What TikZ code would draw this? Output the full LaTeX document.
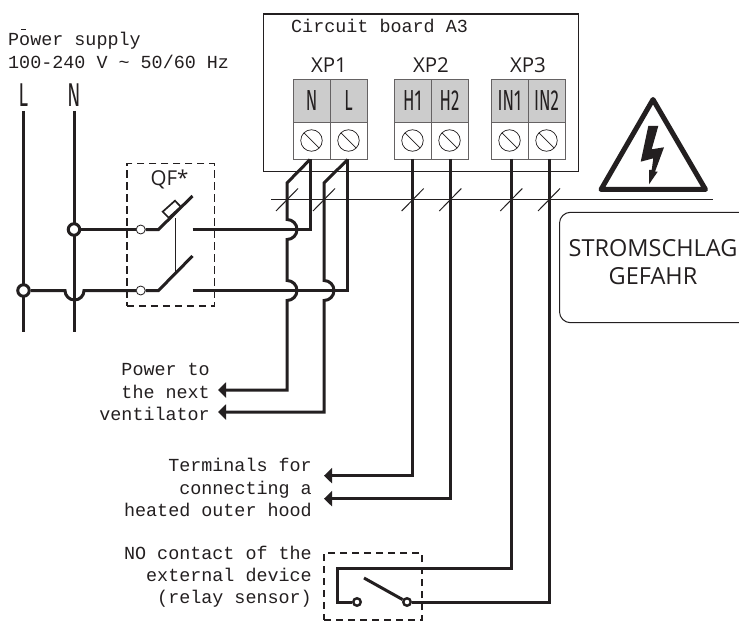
\documentclass[tikz,border=0pt]{standalone}
\usepackage{fontspec}
\setmonofont{Liberation Mono}
\newfontfamily\condfont[FakeStretch=0.58]{Fira Sans}
\newfontfamily\labfont{Open Sans}
\usetikzlibrary{arrows.meta,calc}
\definecolor{ink}{HTML}{231F20}
\definecolor{termgray}{HTML}{CCCCCC}
\tikzset{
  wire/.style={draw=ink,line width=3bp,line join=miter},
  thin wire/.style={draw=ink,line width=1bp},
  dashbox/.style={draw=ink,line width=1.8bp,dash pattern=on 7.5bp off 4.5bp},
  monotxt/.style={font=\fontsize{18.4bp}{22.4bp}\selectfont\ttfamily,text=ink,inner sep=0,align=right,anchor=east},
  condtxt/.style={font=\fontsize{29bp}{30bp}\selectfont\condfont,text=ink,inner sep=0},
  xptxt/.style={font=\fontsize{20.5bp}{22bp}\selectfont\labfont,text=ink,inner sep=0},
  phase/.style={font=\fontsize{33bp}{34bp}\selectfont\condfont,text=ink,inner sep=0},
  tip/.style={-{Triangle[length=8bp,width=15bp]}},
  screw/.style={circle,draw=ink,line width=0.7bp,minimum size=21.5bp,inner sep=0,path picture={\draw[ink,line width=0.7bp] (path picture bounding box.north west)++(3.2bp,-3.2bp) -- ($(path picture bounding box.south east)+(-3.2bp,3.2bp)$);}},
  cellbox/.style={draw=ink!70,line width=1bp,minimum width=37bp,inner sep=0,anchor=north west},
  hollow/.style={circle,draw=ink,fill=white,inner sep=0},
}
\begin{document}
\begin{tikzpicture}[x=1bp,y=-1bp]
\useasboundingbox (0,0) rectangle (739,621);
\fill[white] (0,0) rectangle (739,621);
% circuit board
\node[draw=ink,line width=1.1bp,minimum width=315bp,minimum height=157.5bp,inner sep=0,anchor=north west] (board) at (263,13.5) {};
\node[monotxt,anchor=west] (title) at (291,25.5) {Circuit board A3};
% terminals
\foreach \nm/\x/\t in {a/293/N,b/330/L,c/394/H1,d/431/H2,e/491/IN1,f/528/IN2}{
  \node[cellbox,fill=termgray,minimum height=43.5bp] (head\nm) at (\x,78.7) {};
  \node[cellbox,minimum height=37bp,fill=white] (cell\nm) at (\x,122.2) {};
  \node[condtxt] at (\x+18.5,101) {\t};
  \node[screw] (screw\nm) at (\x+18.5,140.5) {};
}
\node[xptxt] (xp1) at (329,65) {XP1};
\node[xptxt] (xp2) at (431,65) {XP2};
\node[xptxt] (xp3) at (528,65) {XP3};
% power label
\node[monotxt,anchor=west,align=left] (psu) at (8,50.5) {Power supply\\100-240 V \char`\~{} 50/60 Hz};
\draw[ink,line width=0.5bp] (21,29) -- (26,29);
\node[phase] (lL) at (23.5,95) {L};
\node[phase] (lN) at (74,95) {N};
% bus line
\coordinate (busL) at (271,199.5);
\coordinate (busR) at (713,199.5);
\draw[thin wire] (busL) -- (busR);
% mains
\coordinate (jNc) at (74,229.5);
\coordinate (jLc) at (23.5,290.5);
\draw[wire] (23.5,111) -- (23.5,332);
\draw[wire] (74,111) -- (74,332);
\node[hollow,line width=3bp,minimum size=11.5bp] (jN) at (jNc) {};
\node[hollow,line width=3bp,minimum size=11.5bp] (jL) at (jLc) {};
% breaker
\node[hollow,line width=0.8bp,minimum size=9bp] (qa) at (140.7,229.5) {};
\node[hollow,line width=0.8bp,minimum size=9bp] (qb) at (140.7,290.5) {};
\draw[wire] (jN) -- (qa);
\draw[wire] (qa) -- (158.5,229.5) -- (192.5,196);
\draw[wire] (jL) -- (65,290.5) arc[start angle=180,end angle=0,radius=9.5] -- (qb);
\draw[wire] (qb) -- (158.5,290.5) -- (192.5,256);
\draw[thin wire] (175,218) -- (175,273);
\draw[draw=ink,line width=1.7bp,fill=white] (162.7,211.7) -- (175,200.7) -- (180.7,206.7) -- (168.7,217.7) -- cycle;
\node[dashbox,minimum width=87.5bp,minimum height=142.5bp,inner sep=0,anchor=north west] (qf) at (126,162.7) {};
\node[font=\fontsize{20.5bp}{22bp}\selectfont\labfont,text=ink,inner sep=0] (qft) at (169.5,179) {QF*};
% load side
\coordinate (tN) at (310,159.5);
\coordinate (tL) at (347.7,159.5);
\draw[wire] (192.5,229.5) -- (310,229.5) -- (tN);
\draw[wire] (192.5,290.5) -- (347.7,290.5) -- (tL);
% outgoing with bridges
\coordinate (outA) at (218,390);
\coordinate (outB) at (218,412);
\draw[wire,tip] (tN) -- (287,183) -- (287,219.5) arc[start angle=-90,end angle=90,radius=10] -- (287,280.5) arc[start angle=-90,end angle=90,radius=10] -- (287,390) -- (outA);
\draw[wire,tip] (tL) -- (324,183) -- (324,280.5) arc[start angle=-90,end angle=90,radius=10] -- (324,412) -- (outB);
% other terminals
\coordinate (outC) at (324,475.7);
\coordinate (outD) at (324,498.7);
\draw[wire,tip] (412.7,159) -- (412.7,475.7) -- (outC);
\draw[wire,tip] (450.3,159) -- (450.3,498.7) -- (outD);
% relay
\node[hollow,line width=2.4bp,minimum size=7.5bp] (ra) at (357,602) {};
\node[hollow,line width=2.4bp,minimum size=7.5bp] (rb) at (407,602) {};
\draw[wire] (511.3,159) -- (511.3,568) -- (337,568) -- (337,602) -- (ra);
\draw[wire] (549,159) -- (549,602) -- (rb);
\draw[wire] (364,578) -- (rb);
\node[dashbox,minimum width=98bp,minimum height=67bp,inner sep=0,anchor=north west,line width=2bp,dash pattern=on 7bp off 5bp] (rel) at (323,552) {};
% ticks
\foreach \x in {287,324,412.7,450.3,511.3,549}{
  \draw[thin wire] (\x-11,211) -- (\x+11,188.5);
}
% warning triangle
\draw[draw=ink,line width=5bp,line join=round,fill=white] (653,99.5) -- (601,189.5) -- (705.5,189.5) -- cycle;
\fill[ink] (648.3,126) -- (658.3,126) -- (651.7,149.3) -- (664,147.3) -- (655,171.7) -- (657.7,171.7) -- (649,184.3) -- (649,170) -- (651.7,170) -- (653.3,158.3) -- (640.7,161.7) -- cycle;
% danger box
\draw[draw=ink,line width=1bp,rounded corners=11bp] (745,212.3) -- (559.5,212.3) -- (559.5,322.7) -- (745,322.7);
\node[font=\fontsize{23.5bp}{28bp}\selectfont\labfont,text=ink,align=center,inner sep=0] (dng) at (653,262.5) {STROMSCHLAG\\GEFAHR};
% lower labels
\node[monotxt] (t1) at (210,392.3) {Power to\\the next\\ventilator};
\node[monotxt] (t2) at (312,487.5) {Terminals for\\connecting a\\heated outer hood};
\node[monotxt] (t3) at (312,576.7) {NO contact of the\\external device\\(relay sensor)};
\end{tikzpicture}
\end{document}
